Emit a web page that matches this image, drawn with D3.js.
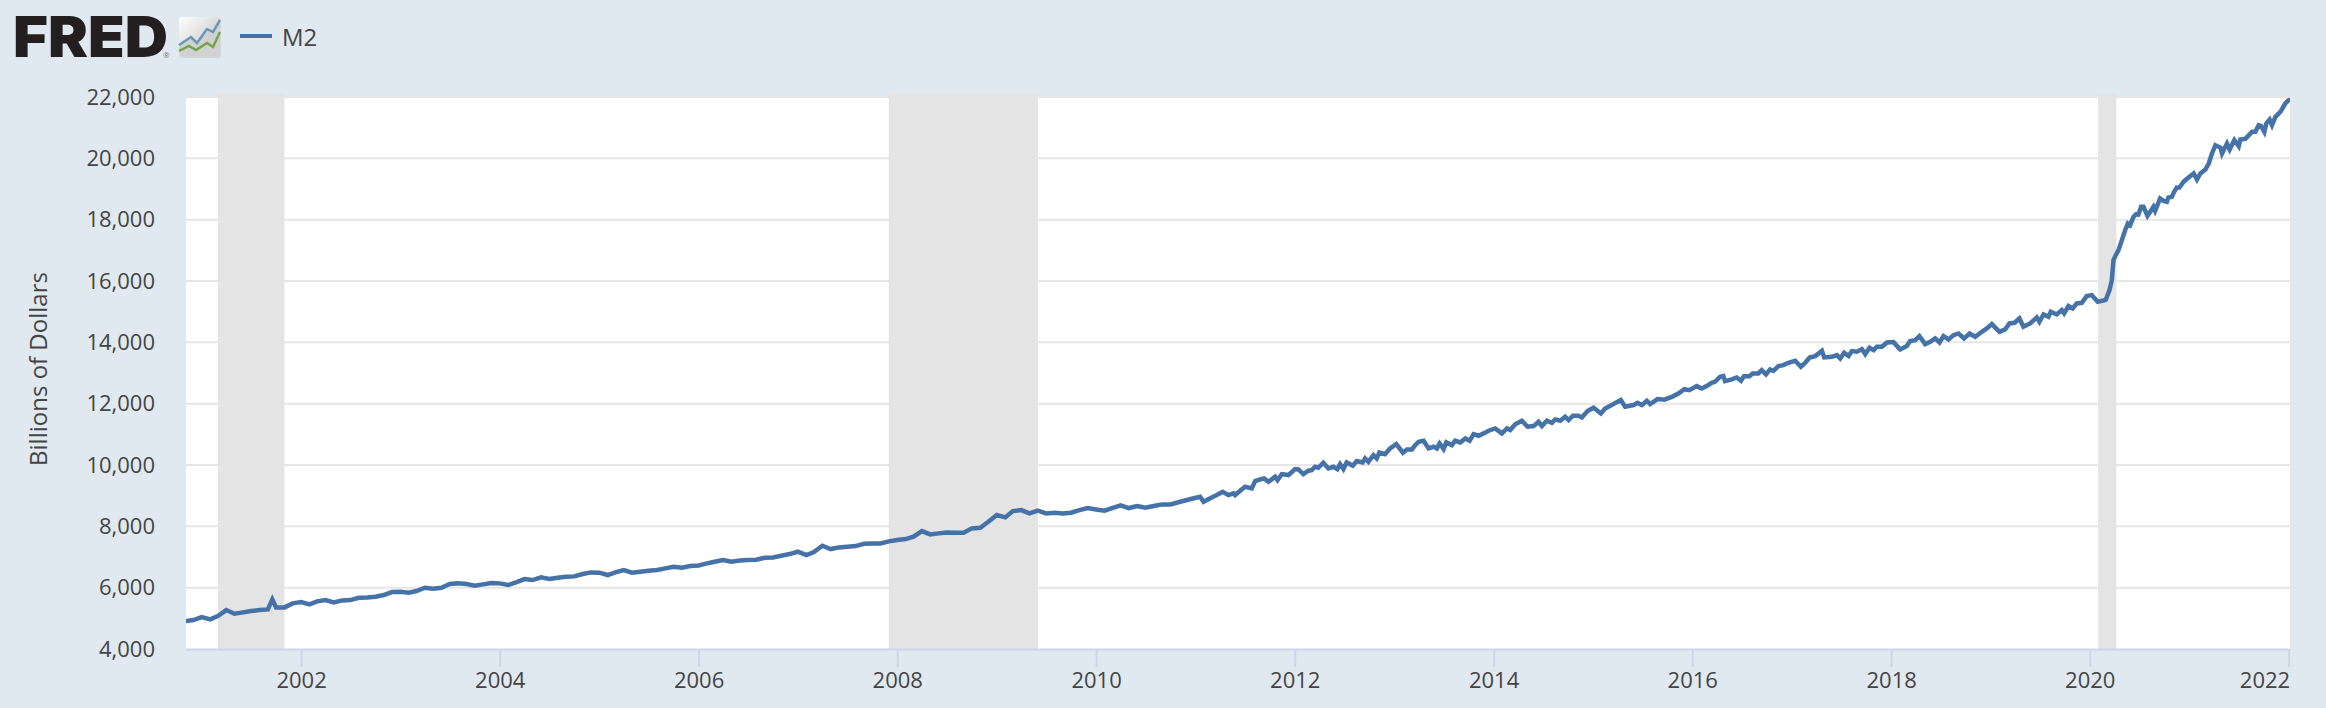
<!DOCTYPE html>
<html><head><meta charset="utf-8">
<script src="https://cdnjs.cloudflare.com/ajax/libs/d3/7.8.5/d3.min.js"></script>
<style>
html,body{margin:0;padding:0;background:#e1e9f0;overflow:hidden}
svg{display:block}
text{font-family:"Open Sans",sans-serif}
</style></head><body><div id="chart"></div>
<script>
// Monthly samples (Nov 2000 to Oct 2010), billions of dollars
const startMonth = "2000-11-01";
const m2Monthly = [
4912,4944,5042,4966,5075,5270,5151,5194,5238,5270,5290,5357,5357,5488,5531,5455,5553,5596,5520,5585,
5596,5672,5683,5705,5760,5857,5868,5835,5890,5998,5966,5998,6118,6140,6118,6064,6107,6151,6140,6086,
6172,6281,6249,6336,6281,6325,6357,6368,6444,6498,6488,6412,6498,6575,6488,6520,6553,6575,6629,6683,
6650,6705,6726,6791,6846,6900,6846,6889,6900,6911,6976,6987,7041,7096,7172,7063,7161,7368,7259,7313,
7335,7357,7433,7444,7444,7509,7552,7585,7661,7846,7737,7770,7802,7791,7791,7933,7955,8150,8368,8292,
8498,8531,8422,8509,8422,8444,8422,8444,8531,8596,8552,8509,8596,8683,8596,8661,8607,8661,8715,8715
];
// Finer readings of the peaks and dips (decimal year, value)
const detailYears = [
2001.710,
2010.846,2010.963,2011.047,2011.081,2011.165,2011.215,2011.275,2011.332,2011.383,2011.399,2011.450,2011.500,2011.567,2011.601,2011.651,2011.691,2011.735,2011.802,2011.826,2011.869,2011.936,
2012.003,2012.037,2012.087,2012.137,2012.171,2012.205,2012.238,2012.288,2012.339,2012.389,2012.429,2012.456,2012.490,2012.523,2012.584,2012.624,2012.684,2012.708,2012.741,2012.792,2012.825,2012.852,2012.909,2012.959,
2013.020,2013.087,2013.127,2013.177,2013.211,2013.245,2013.295,2013.345,2013.395,2013.429,2013.456,2013.496,2013.523,2013.580,2013.613,2013.664,2013.714,2013.758,2013.798,2013.848,2013.899,2013.949,
2014.016,2014.083,2014.134,2014.167,2014.217,2014.284,2014.342,2014.402,2014.452,2014.486,2014.536,2014.586,2014.620,2014.670,2014.720,2014.754,2014.798,2014.855,2014.888,2014.945,
2015.006,2015.080,2015.123,2015.207,2015.281,2015.324,2015.408,2015.448,2015.492,2015.542,2015.576,2015.650,2015.720,2015.800,2015.860,2015.920,2015.970,
2016.045,2016.095,2016.145,2016.196,2016.229,2016.280,2016.313,2016.330,2016.397,2016.447,2016.491,2016.521,2016.575,2016.608,2016.665,2016.699,2016.742,2016.783,2016.816,2016.867,2016.917,2016.967,
2017.034,2017.091,2017.135,2017.179,2017.236,2017.303,2017.326,2017.403,2017.454,2017.487,2017.527,2017.571,2017.605,2017.655,2017.705,2017.739,2017.782,2017.823,2017.856,2017.906,2017.957,
2018.024,2018.091,2018.158,2018.191,2018.242,2018.285,2018.343,2018.393,2018.443,2018.487,2018.527,2018.577,2018.628,2018.678,2018.735,2018.789,2018.846,2018.913,2018.963,
2019.014,2019.091,2019.148,2019.191,2019.242,2019.292,2019.332,2019.399,2019.466,2019.493,2019.534,2019.584,2019.607,2019.668,2019.718,2019.741,2019.785,2019.828,2019.869,2019.919,2019.969,
2020.020,2020.080,2020.154,2020.162,2020.199,2020.222,2020.239,2020.262,2020.289,2020.323,2020.356,2020.383,2020.406,2020.440,2020.467,2020.490,2020.517,2020.541,2020.581,2020.624,2020.641,2020.658,2020.708,2020.742,2020.776,2020.792,2020.826,2020.849,2020.876,2020.903,2020.943,2020.994,
2021.044,2021.077,2021.111,2021.161,2021.195,2021.228,2021.262,2021.312,2021.329,2021.379,2021.406,2021.453,2021.497,2021.513,2021.564,2021.631,2021.664,2021.698,2021.721,2021.755,2021.775,2021.808,2021.832,2021.866,2021.916,2021.966,2022.000
];
const detailValues = [
5618,
8802,8900,8965,8802,8943,9019,9128,9019,9073,9019,9160,9291,9236,9476,9530,9562,9454,9617,9508,9704,9671,
9867,9856,9704,9813,9834,9943,9910,10073,9889,9943,9867,10030,9867,10084,9976,10128,10084,10215,10106,10323,10215,10410,10356,10541,
10682,10400,10508,10508,10650,10758,10791,10541,10595,10541,10704,10519,10737,10650,10791,10737,10867,10791,11008,10954,11030,11117,
11193,11030,11193,11139,11324,11443,11247,11269,11410,11269,11443,11378,11487,11443,11574,11465,11606,11606,11552,11758,
11867,11682,11845,11987,12117,11900,11954,12030,11954,12095,11987,12150,12130,12230,12330,12470,12440,
12572,12496,12572,12681,12714,12877,12898,12735,12790,12855,12746,12898,12898,12985,12985,13094,12953,13116,13072,13225,13257,13333,
13398,13203,13333,13507,13551,13725,13507,13529,13583,13475,13659,13551,13714,13692,13779,13616,13822,13746,13855,13855,13996,
14007,13768,13877,14040,14072,14203,13942,14018,14127,13996,14203,14094,14235,14290,14127,14290,14181,14344,14453,
14594,14344,14420,14616,14638,14779,14507,14616,14812,14670,14909,14833,14996,14909,15051,14942,15181,15105,15268,15290,15507,
15540,15322,15377,15396,15701,16027,16679,16842,17005,17331,17657,17875,17820,18092,18179,18168,18418,18418,18125,18331,18418,18288,18690,18614,18581,18722,18744,18907,19049,19049,19233,19375,
19505,19309,19505,19636,19831,20157,20429,20353,20157,20483,20288,20592,20397,20614,20636,20864,20864,21081,21060,20864,21136,21266,21081,21353,21516,21788,21897
];
const recessionStarts = ["2001-03-01","2007-12-01","2020-02-01"];
const recessionEnds = ["2001-11-01","2009-06-01","2020-04-08"];
const yTicks = [4000,6000,8000,10000,12000,14000,16000,18000,20000,22000];
const xTickYears = [2002,2004,2006,2008,2010,2012,2014,2016,2018,2020,2022];
const seriesName = "M2";
const yTitle = "Billions of Dollars";

const W=2326,H=708,L=186,R=2290,T=97,B=649;
const parse=d3.utcParse("%Y-%m-%d");
const fromYear=v=>{const yr=Math.floor(v);return new Date(Date.UTC(yr,0,1)+(v-yr)*365.25*864e5);};
const data=[
 ...m2Monthly.map((v,i)=>({date:d3.utcMonth.offset(parse(startMonth),i),value:v})),
 ...detailValues.map((v,i)=>({date:fromYear(detailYears[i]),value:v}))
].sort((a,b)=>a.date-b.date);
const x=d3.scaleUtc().domain([parse("2000-11-04"),parse("2022-01-06")]).range([L,R]);
const y=d3.scaleLinear().domain([4000,22000]).range([B,T]);
const textCol="#444444", grid="#e6e6e6", axisCol="#ccd6eb", lineCol="#4572a7";

const svg=d3.select("#chart").append("svg").attr("width",W).attr("height",H);
svg.append("rect").attr("width",W).attr("height",H).attr("fill","#e1e9f0");
svg.append("rect").attr("x",L).attr("y",T-1).attr("width",R-L).attr("height",B-T+1).attr("fill","#fff");

// grid
svg.append("g").selectAll("line").data(yTicks.slice(1)).join("line")
 .attr("x1",L).attr("x2",R).attr("y1",d=>y(d)).attr("y2",d=>y(d))
 .attr("stroke",grid).attr("stroke-width",2);

// recessions
svg.append("g").selectAll("rect").data(recessionStarts).join("rect")
 .attr("x",d=>x(parse(d)))
 .attr("width",(d,i)=>x(parse(recessionEnds[i]))-x(parse(d)))
 .attr("y",T-3).attr("height",B-T+3).attr("fill","#e4e4e4");

// y axis
const yAxis=svg.append("g").attr("transform",`translate(${L},0)`)
 .call(d3.axisLeft(y).tickValues(yTicks).tickFormat(d3.format(",")).tickSize(0).tickPadding(31));
yAxis.select(".domain").remove();
yAxis.selectAll("text").attr("font-size",22).attr("fill",textCol).attr("font-family",'"Open Sans",sans-serif');

// x axis
const xAxis=svg.append("g").attr("transform",`translate(0,${B})`)
 .call(d3.axisBottom(x).tickValues(xTickYears.map(yr=>new Date(Date.UTC(yr,0,1))))
   .tickFormat(d3.utcFormat("%Y")).tickSizeOuter(0).tickSizeInner(18).tickPadding(5));
xAxis.select(".domain").attr("stroke",axisCol).attr("stroke-width",2);
xAxis.selectAll(".tick line").attr("stroke",axisCol).attr("stroke-width",2);
xAxis.selectAll("text").attr("font-size",22).attr("fill",textCol).attr("font-family",'"Open Sans",sans-serif');
xAxis.selectAll(".tick:last-of-type text").attr("text-anchor","end").attr("dx",1);

// y title
svg.append("text").attr("transform",`translate(47,369) rotate(-90)`)
 .attr("text-anchor","middle").attr("font-size",24).attr("fill",textCol).text(yTitle);

// series
svg.append("clipPath").attr("id","plotClip").append("rect").attr("x",L).attr("y",0).attr("width",R-L).attr("height",H);
svg.append("path").datum(data).attr("clip-path","url(#plotClip)")
 .attr("fill","none").attr("stroke",lineCol).attr("stroke-width",4.5)
 .attr("stroke-linejoin","miter").attr("stroke-linecap","round")
 .attr("d",d3.line().x(d=>x(d.date)).y(d=>y(d.value)));

// legend
svg.append("line").attr("x1",240).attr("x2",272).attr("y1",36).attr("y2",36).attr("stroke",lineCol).attr("stroke-width",4);
svg.append("text").attr("x",282).attr("y",46).attr("font-size",24).attr("font-weight",500).attr("fill",textCol).text(seriesName);

// logo
svg.append("text").attr("x",13).attr("y",57).attr("font-size",56).attr("font-weight",900)
 .style("font-family","Inter, sans-serif").attr("fill","#231f20")
 .attr("textLength",155).attr("lengthAdjust","spacingAndGlyphs").text("FRED");
svg.append("text").attr("x",163).attr("y",58).attr("font-size",8).attr("fill","#777").text("®");
const defs=svg.append("defs");
const g=defs.append("linearGradient").attr("id","lg").attr("x1",0).attr("y1",0).attr("x2",1).attr("y2",1);
g.append("stop").attr("offset","0").attr("stop-color","#ffffff");
g.append("stop").attr("offset","0.6").attr("stop-color","#d4d6d6");
svg.append("rect").attr("x",179).attr("y",17).attr("width",42).attr("height",41).attr("rx",3).attr("fill","url(#lg)");
svg.append("path").attr("d","M179,46 L191,37 L197,43 L207,29 L213,32 L220,21 L220,56 L180,56 Z").attr("fill","#d0d2d2");
svg.append("path").attr("d","M179,45 L191,37 L197,43 L207,29 L213,32 L220,20").attr("fill","none").attr("stroke","#6d97b5").attr("stroke-width",2.5);
svg.append("path").attr("d","M179,51 L189,46 L196,50 L207,43 L213,47 L220,32").attr("fill","none").attr("stroke","#76a34f").attr("stroke-width",2.5);
</script></body></html>
